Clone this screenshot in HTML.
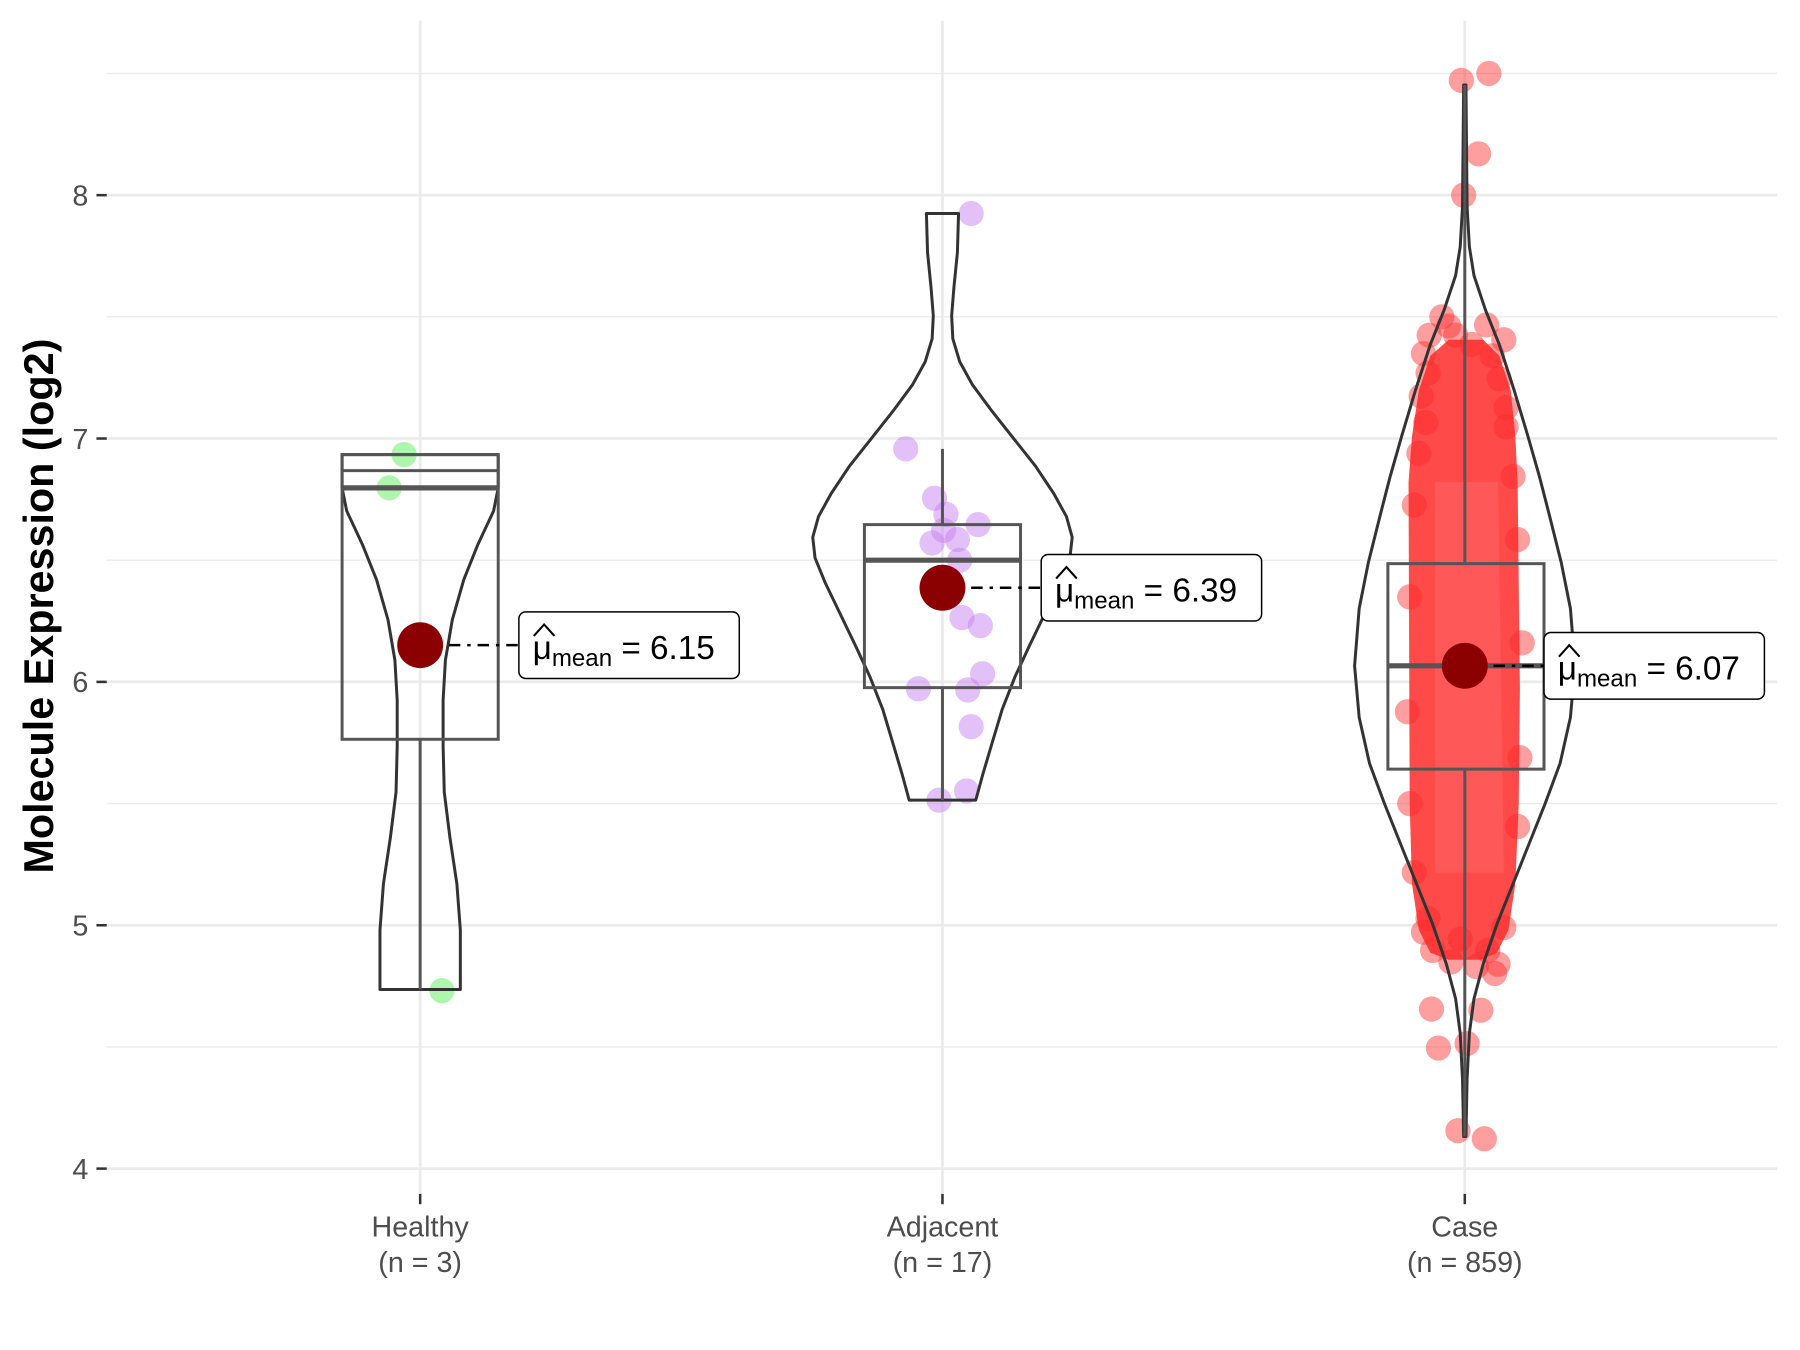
<!DOCTYPE html>
<html><head><meta charset="utf-8"><style>
html,body{margin:0;padding:0;background:#fff}
svg{display:block}
text{font-family:"Liberation Sans",Arial,sans-serif}
</style></head><body>
<svg width="1800" height="1350" viewBox="0 0 1568 1176" xmlns="http://www.w3.org/2000/svg">
<rect width="1568" height="1176" fill="#fff"/>
<g stroke="#ebebeb" stroke-width="1.2">
<line x1="93" x2="1548" y1="64" y2="64"/><line x1="93" x2="1548" y1="276" y2="276"/>
<line x1="93" x2="1548" y1="488" y2="488"/><line x1="93" x2="1548" y1="700" y2="700"/>
<line x1="93" x2="1548" y1="912" y2="912"/>
</g>
<g stroke="#ebebeb" stroke-width="2.4">
<line x1="93" x2="1548" y1="170" y2="170"/><line x1="93" x2="1548" y1="382" y2="382"/>
<line x1="93" x2="1548" y1="594" y2="594"/><line x1="93" x2="1548" y1="806" y2="806"/>
<line x1="93" x2="1548" y1="1018" y2="1018"/>
<line x1="366" x2="366" y1="18" y2="1040"/><line x1="821" x2="821" y1="18" y2="1040"/><line x1="1276" x2="1276" y1="18" y2="1040"/>
</g>
<g fill="rgba(120,240,120,0.6)">
<circle cx="352" cy="396" r="11"/><circle cx="339" cy="425" r="11"/><circle cx="385" cy="863" r="11"/>
</g>
<g fill="rgba(200,130,240,0.5)">
<circle cx="789" cy="391" r="11"/><circle cx="846" cy="186" r="11"/><circle cx="814" cy="434" r="11"/><circle cx="824" cy="448" r="11"/><circle cx="852" cy="457" r="11"/><circle cx="822" cy="462" r="11"/><circle cx="834" cy="470" r="11"/><circle cx="812" cy="473" r="11"/><circle cx="836" cy="488" r="11"/><circle cx="838" cy="538" r="11"/><circle cx="854" cy="545" r="11"/><circle cx="856" cy="587" r="11"/><circle cx="800" cy="600" r="11"/><circle cx="843" cy="601" r="11"/><circle cx="846" cy="633" r="11"/><circle cx="818" cy="697" r="11"/><circle cx="842" cy="689" r="11"/>
</g>
<path d="M1262,296 L1292,296 L1306,310 L1316,340 L1320,380 L1322,420 L1324,600 L1323,700 L1320,770 L1314,810 L1304,830 L1290,836 L1262,836 L1246,830 L1236,810 L1230,770 L1228,700 L1227,420 L1230,380 L1236,340 L1246,310 Z" fill="#ff4a4a"/>
<path d="M1250,420 L1305,420 L1310,760 L1250,760 Z" fill="#ff6262" opacity="0.6"/>
<g fill="rgba(255,40,40,0.45)">
<circle cx="1273" cy="70" r="11"/><circle cx="1297" cy="64" r="11"/><circle cx="1288" cy="134" r="11"/><circle cx="1275" cy="170" r="11"/>
<circle cx="1247" cy="879" r="11"/><circle cx="1290" cy="880" r="11"/><circle cx="1253" cy="913" r="11"/><circle cx="1278" cy="909" r="11"/><circle cx="1270" cy="985" r="11"/><circle cx="1293" cy="992" r="11"/>
<circle cx="1256" cy="276" r="11"/><circle cx="1262" cy="284" r="11"/><circle cx="1295" cy="283" r="11"/><circle cx="1310" cy="296" r="11"/><circle cx="1245" cy="292" r="11"/><circle cx="1240" cy="308" r="11"/>
<circle cx="1300" cy="310" r="11"/><circle cx="1306" cy="330" r="11"/><circle cx="1244" cy="325" r="11"/><circle cx="1238" cy="345" r="11"/><circle cx="1312" cy="355" r="11"/><circle cx="1242" cy="368" r="11"/><circle cx="1312" cy="372" r="11"/>
<circle cx="1236" cy="395" r="11"/><circle cx="1318" cy="415" r="11"/><circle cx="1232" cy="440" r="11"/><circle cx="1322" cy="470" r="11"/><circle cx="1228" cy="520" r="11"/><circle cx="1326" cy="560" r="11"/><circle cx="1226" cy="620" r="11"/><circle cx="1324" cy="660" r="11"/><circle cx="1228" cy="700" r="11"/><circle cx="1322" cy="720" r="11"/><circle cx="1232" cy="760" r="11"/>
<circle cx="1244" cy="800" r="11"/><circle cx="1240" cy="812" r="11"/><circle cx="1310" cy="808" r="11"/><circle cx="1305" cy="840" r="11"/><circle cx="1302" cy="848" r="11"/><circle cx="1248" cy="828" r="11"/><circle cx="1264" cy="838" r="11"/><circle cx="1286" cy="842" r="11"/><circle cx="1296" cy="828" r="11"/><circle cx="1272" cy="818" r="11"/><circle cx="1268" cy="292" r="11"/><circle cx="1282" cy="300" r="11"/>
</g>
<g fill="none" stroke="#333" stroke-width="2.6" stroke-linejoin="round">
<path d="M298,396 L298,425 L302,445 L316,475 L328,505 L338,540 L344,575 L346,610 L346,650 L345,690 L340,730 L334,770 L331,810 L331,862 L401,862 L401,810 L398,770 L392,730 L387,690 L386,650 L386,610 L388,575 L394,540 L404,505 L416,475 L430,445 L434,425 L434,396 Z"/>
<path d="M807,186 L808,220 L811,250 L813,275 L812,295 L806,315 L795,335 L778,358 L759,382 L740,406 L724,430 L713,450 L708,468 L710,486 L719,508 L732,535 L745,562 L758,590 L769,618 L778,648 L786,675 L792,697 L850,697 L856,675 L864,648 L873,618 L884,590 L897,562 L910,535 L923,508 L932,486 L934,468 L929,450 L918,430 L902,406 L883,382 L864,358 L847,335 L836,315 L830,295 L829,275 L831,250 L834,220 L835,186 Z"/>
<path d="M1275,74 L1274,180 L1272,215 L1268,240 L1258,270 L1246,300 L1233,340 L1221,380 L1211,415 L1202,450 L1192,490 L1184,530 L1180,580 L1184,625 L1193,665 L1206,700 L1220,735 L1234,770 L1248,805 L1260,840 L1268,870 L1272,900 L1274,940 L1275,990 L1277,990 L1278,940 L1280,900 L1284,870 L1292,840 L1304,805 L1318,770 L1332,735 L1346,700 L1359,665 L1368,625 L1372,580 L1368,530 L1360,490 L1350,450 L1341,415 L1331,380 L1319,340 L1306,300 L1294,270 L1284,240 L1280,215 L1278,180 L1277,74 Z"/>
</g>
<g fill="none" stroke="#555" stroke-width="2.6">
<line x1="366" x2="366" y1="644" y2="862"/>
<rect x="298" y="396" width="136" height="248"/>
<line x1="298" x2="434" y1="425" y2="425" stroke-width="4.5"/>
<line x1="298" x2="434" y1="410" y2="410"/>
<line x1="821" x2="821" y1="391" y2="457"/><line x1="821" x2="821" y1="599" y2="697"/>
<rect x="753" y="457" width="136" height="142"/>
<line x1="753" x2="889" y1="488" y2="488" stroke-width="4.5"/>
<line x1="1276" x2="1276" y1="74" y2="491"/><line x1="1276" x2="1276" y1="670" y2="990"/>
<rect x="1209" y="491" width="136" height="179"/>
<line x1="1209" x2="1345" y1="580" y2="580" stroke-width="4.5"/>
</g>
<g stroke="#000" stroke-width="2.2" stroke-dasharray="10,6,3,6">
<line x1="366" x2="452" y1="562" y2="562"/><line x1="821" x2="907" y1="512" y2="512"/><line x1="1276" x2="1345" y1="580" y2="580"/>
</g>
<g fill="#8B0000"><circle cx="366" cy="562" r="20"/><circle cx="821" cy="512" r="20"/><circle cx="1276" cy="580" r="20"/></g>
<g fill="#fff" stroke="#000" stroke-width="1.3">
<rect x="452" y="533" width="192" height="58" rx="6"/><rect x="907" y="483" width="192" height="58" rx="6"/><rect x="1345" y="551" width="192" height="58" rx="6"/>
</g>
<g font-size="29" fill="#000">
<text x="464" y="574">μ<tspan font-size="21" dy="6">mean</tspan><tspan dy="-6"> = 6.15</tspan></text>
<text x="919" y="524">μ<tspan font-size="21" dy="6">mean</tspan><tspan dy="-6"> = 6.39</tspan></text>
<text x="1357" y="592">μ<tspan font-size="21" dy="6">mean</tspan><tspan dy="-6"> = 6.07</tspan></text>
</g>
<g fill="none" stroke="#000" stroke-width="1.8">
<path d="M465,554 L474,544 L483,554"/><path d="M920,504 L929,494 L938,504"/><path d="M1358,572 L1367,562 L1376,572"/>
</g>
<g stroke="#333" stroke-width="2.2">
<line x1="84" x2="93" y1="170" y2="170"/><line x1="84" x2="93" y1="382" y2="382"/><line x1="84" x2="93" y1="594" y2="594"/><line x1="84" x2="93" y1="806" y2="806"/><line x1="84" x2="93" y1="1018" y2="1018"/>
<line x1="366" x2="366" y1="1040" y2="1049"/><line x1="821" x2="821" y1="1040" y2="1049"/><line x1="1276" x2="1276" y1="1040" y2="1049"/>
</g>
<g font-size="25" fill="#4d4d4d" text-anchor="end">
<text x="77" y="179">8</text><text x="77" y="391">7</text><text x="77" y="603">6</text><text x="77" y="815">5</text><text x="77" y="1027">4</text>
</g>
<g font-size="25" fill="#4d4d4d" text-anchor="middle">
<text x="366" y="1077">Healthy</text><text x="366" y="1108">(n = 3)</text>
<text x="821" y="1077">Adjacent</text><text x="821" y="1108">(n = 17)</text>
<text x="1276" y="1077">Case</text><text x="1276" y="1108">(n = 859)</text>
</g>
<text transform="translate(46,528) rotate(-90)" font-size="36" font-weight="bold" text-anchor="middle" fill="#000">Molecule Expression (log2)</text>
</svg>
</body></html>
